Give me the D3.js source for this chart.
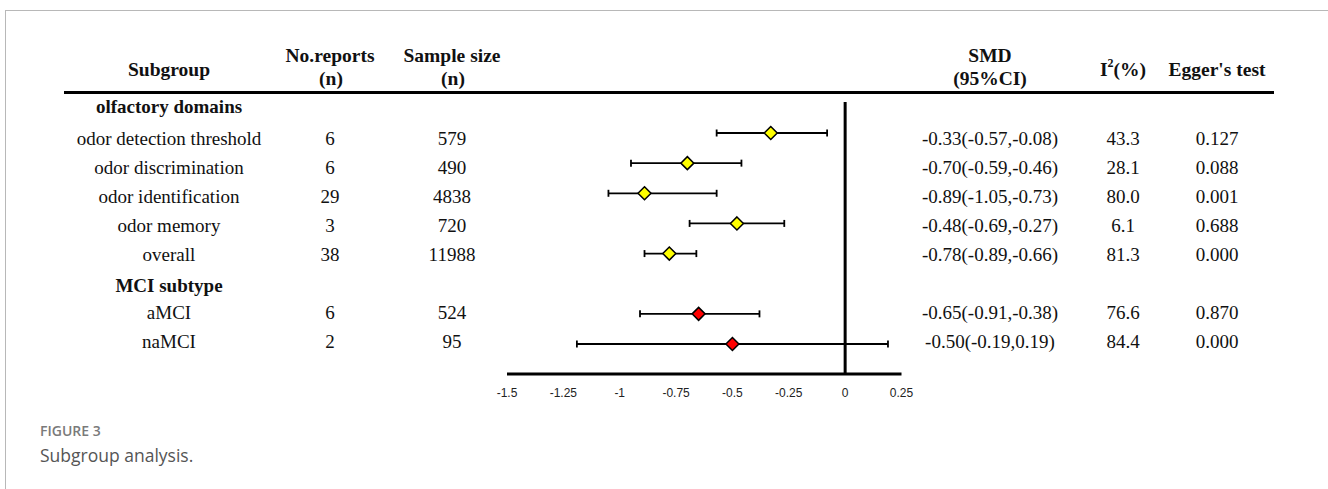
<!DOCTYPE html>
<html lang="en">
<head>
  <meta charset="UTF-8">
  <title>Subgroup analysis</title>
  <script src="https://d3js.org/d3.v7.min.js"></script>
  <style>
    body {
      margin: 0;
      background: #fff;
    }
    .frame {
      position: absolute;
      left: 5px;
      top: 10px;
      width: 1400px;
      height: 600px;
      border-left: 1.5px solid #b8b8b8;
      border-top: 1.5px solid #b8b8b8;
    }
    .serif { font-family: "Liberation Serif", "Times New Roman", serif; fill: #111; }
    .tick-lbl { font-family: "Liberation Sans", Arial, sans-serif; font-size: 12px; fill: #222; }
    .cap1 { font-family: "Open Sans", "Noto Sans", sans-serif; font-size: 14px; fill: #7a7a7a; font-weight: 600; }
    .cap2 { font-family: "Open Sans", "Noto Sans", sans-serif; font-size: 17.5px; fill: #555; }
  </style>
</head>
<body>
  <div class="frame"></div>
  <svg id="chart" width="1328" height="489" style="position:absolute;left:0;top:0"></svg>

  <script>
    // data
    const subgroups = ["odor detection threshold", "odor discrimination", "odor identification",
                       "odor memory", "overall", "aMCI", "naMCI"];
    const groupOf   = ["olf", "olf", "olf", "olf", "olf", "mci", "mci"];
    const reports   = [6, 6, 29, 3, 38, 6, 2];
    const samples   = [579, 490, 4838, 720, 11988, 524, 95];
    const smd       = [-0.33, -0.70, -0.89, -0.48, -0.78, -0.65, -0.50];
    const ciLow     = [-0.57, -0.95, -1.05, -0.69, -0.89, -0.91, -1.19];   // as plotted
    const ciHigh    = [-0.08, -0.46, -0.57, -0.27, -0.66, -0.38, 0.19];
    const ciText    = ["-0.33(-0.57,-0.08)", "-0.70(-0.59,-0.46)", "-0.89(-1.05,-0.73)",
                       "-0.48(-0.69,-0.27)", "-0.78(-0.89,-0.66)", "-0.65(-0.91,-0.38)",
                       "-0.50(-0.19,0.19)"];
    const i2        = ["43.3", "28.1", "80.0", "6.1", "81.3", "76.6", "84.4"];
    const egger     = ["0.127", "0.088", "0.001", "0.688", "0.000", "0.870", "0.000"];
    const tickVals  = [-1.5, -1.25, -1, -0.75, -0.5, -0.25, 0, 0.25];
    const tickText  = ["-1.5", "-1.25", "-1", "-0.75", "-0.5", "-0.25", "0", "0.25"];
    const headings  = ["olfactory domains", "MCI subtype"];

    const color = {olf: "#ffff00", mci: "#ff0000"};

    // row slot: heading 1 is slot -1, heading 2 sits in slot 5
    const slots = [0, 1, 2, 3, 4, 6, 7];
    const headSlots = [-1, 5];

    const svg = d3.select("#chart");

    const x = d3.scaleLinear().domain([-1.5, 0.25]).range([507, 901.5]);
    const yText = d3.scaleLinear().domain([0, 7]).range([145, 348]);
    const yMark = d3.scaleLinear().domain([0, 7]).range([133, 344]);

    const col = {sub: 169, rep: 330, samp: 452, ci: 990, i2: 1123, egg: 1217};

    // header
    const hdr = svg.append("g").attr("class", "serif")
      .style("font-weight", "bold").style("font-size", "19.5px").attr("text-anchor", "middle");
    hdr.append("text").attr("x", col.sub).attr("y", 76).text("Subgroup");
    hdr.append("text").attr("x", col.rep).attr("y", 62).text("No.reports");
    hdr.append("text").attr("x", col.rep + 1).attr("y", 85).text("(n)");
    hdr.append("text").attr("x", col.samp).attr("y", 62).text("Sample size");
    hdr.append("text").attr("x", col.samp + 1).attr("y", 85).text("(n)");
    hdr.append("text").attr("x", col.ci).attr("y", 62).text("SMD");
    hdr.append("text").attr("x", col.ci).attr("y", 85).text("(95%CI)");
    const iT = hdr.append("text").attr("x", col.i2).attr("y", 76);
    iT.append("tspan").text("I");
    iT.append("tspan").attr("dy", -9).style("font-size", "12px").text("2");
    iT.append("tspan").attr("dy", 9).text("(%)");
    hdr.append("text").attr("x", col.egg).attr("y", 76).text("Egger's test");

    svg.append("line")
      .attr("x1", 64).attr("x2", 1274).attr("y1", 92.5).attr("y2", 92.5)
      .attr("stroke", "#000").attr("stroke-width", 3);

    // group headings
    svg.append("g").attr("class", "serif")
      .selectAll("text").data(headings).join("text")
      .attr("x", col.sub)
      .attr("y", (d, i) => headSlots[i] === -1 ? 113 : yText(headSlots[i]) + 2)
      .attr("text-anchor", "middle")
      .style("font-weight", "bold").style("font-size", "19px")
      .text(d => d);

    // table body
    const rows = subgroups.map((s, i) => ({
      s, slot: slots[i], g: groupOf[i], rep: reports[i], samp: samples[i],
      smd: smd[i], lo: ciLow[i], hi: ciHigh[i], ci: ciText[i], i2: i2[i], egg: egger[i]
    }));

    const body = svg.append("g").attr("class", "serif")
      .style("font-size", "19px").attr("text-anchor", "middle");
    const cols = [["sub", d => d.s], ["rep", d => d.rep], ["samp", d => d.samp],
                  ["ci", d => d.ci], ["i2", d => d.i2], ["egg", d => d.egg]];
    cols.forEach(([k, f]) => {
      body.selectAll("text." + k).data(rows).join("text")
        .attr("class", k)
        .attr("x", col[k])
        .attr("y", d => yText(d.slot))
        .text(f);
    });

    // forest plot
    const plot = svg.append("g");
    plot.append("line")
      .attr("x1", x(0)).attr("x2", x(0)).attr("y1", 102).attr("y2", 374)
      .attr("stroke", "#000").attr("stroke-width", 3);
    plot.append("line")
      .attr("x1", x(-1.5)).attr("x2", x(0.25)).attr("y1", 374).attr("y2", 374)
      .attr("stroke", "#000").attr("stroke-width", 3);

    plot.selectAll("text.tick-lbl").data(tickVals).join("text")
      .attr("class", "tick-lbl")
      .attr("x", d => x(d)).attr("y", 397)
      .attr("text-anchor", "middle")
      .text((d, i) => tickText[i]);

    const bars = plot.selectAll("g.bar").data(rows).join("g").attr("class", "bar");
    bars.append("line")
      .attr("x1", d => x(d.lo)).attr("x2", d => x(d.hi))
      .attr("y1", d => yMark(d.slot)).attr("y2", d => yMark(d.slot))
      .attr("stroke", "#000").attr("stroke-width", 1.8);
    ["lo", "hi"].forEach(k => {
      bars.append("line")
        .attr("x1", d => x(d[k])).attr("x2", d => x(d[k]))
        .attr("y1", d => yMark(d.slot) - 3.5).attr("y2", d => yMark(d.slot) + 3.5)
        .attr("stroke", "#000").attr("stroke-width", 1.8);
    });
    bars.append("path")
      .attr("d", d => {
        const cx = x(d.smd), cy = yMark(d.slot), r = 6.5;
        return `M${cx},${cy - r}L${cx + r},${cy}L${cx},${cy + r}L${cx - r},${cy}Z`;
      })
      .attr("fill", d => color[d.g])
      .attr("stroke", "#000").attr("stroke-width", 1.5);

    // caption
    svg.append("text").attr("class", "cap1").attr("x", 40).attr("y", 436).text("FIGURE 3");
    svg.append("text").attr("class", "cap2").attr("x", 40).attr("y", 462).text("Subgroup analysis.");
  </script>
</body>
</html>
